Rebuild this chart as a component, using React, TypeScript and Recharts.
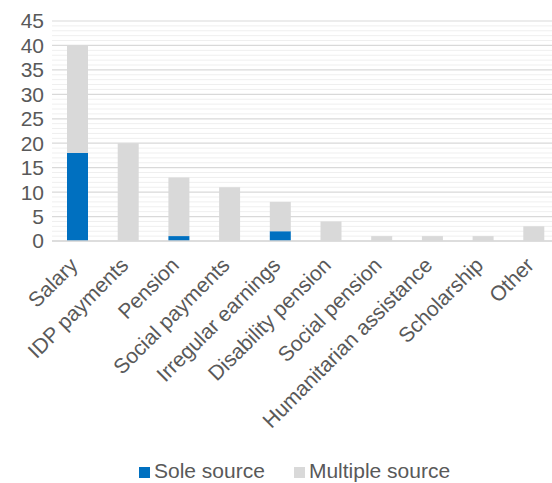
import React from "react";
import { BarChart, Bar, XAxis, YAxis, CartesianGrid, Legend } from "recharts";

const categories = [
  "Salary",
  "IDP payments",
  "Pension",
  "Social payments",
  "Irregular earnings",
  "Disability pension",
  "Social pension",
  "Humanitarian assistance",
  "Scholarship",
  "Other",
];
const soleSource = [18, 0, 1, 0, 2, 0, 0, 0, 0, 0];
const multipleSource = [22, 20, 12, 11, 6, 4, 1, 1, 1, 3];
const majorTicks = [0, 5, 10, 15, 20, 25, 30, 35, 40, 45];
const minorTicks = Array.from({ length: 46 }, (_, i) => i).filter((v) => v % 5 !== 0);
const yMax = 45;

const data = categories.map((name, i) => ({
  name,
  sole: soleSource[i],
  multiple: multipleSource[i],
}));

const font = "'Liberation Sans', Arial, sans-serif";

// light minor gridlines at every unit, placed with the axis scale when available
const minorLines = ({ yAxis, offset }: any) => {
  const sc = yAxis && yAxis.scale;
  if (typeof sc === "function") return minorTicks.map((v) => sc(v));
  if (sc && typeof sc.map === "function") return minorTicks.map((v) => sc.map(v));
  return minorTicks.map((v) => offset.top + offset.height * (1 - v / yMax));
};

const App: React.FC = () => {
  return (
    <div style={{ position: "absolute", left: 0, top: 0, width: 552, height: 483, overflow: "hidden", background: "#fff", fontFamily: font }}>
      <BarChart width={559} height={483} data={data} margin={{ top: 21, right: 0, bottom: 0, left: 0 }}>
        <CartesianGrid vertical={false} stroke="#efefef" strokeWidth={1} horizontalCoordinatesGenerator={minorLines} />
        <CartesianGrid vertical={false} stroke="#d9d9d9" strokeWidth={1.2} />
        <XAxis
          dataKey="name"
          interval={0}
          height={218}
          tickLine={false}
          axisLine={{ stroke: "#d9d9d9", strokeWidth: 1.5 }}
          angle={-45}
          textAnchor="end"
          tick={{ fontSize: 21, fill: "#595959", fontFamily: font, dx: -9, dy: 7 }}
        />
        <YAxis
          width={52}
          domain={[0, yMax]}
          ticks={majorTicks}
          interval={0}
          tickLine={false}
          axisLine={false}
          tick={{ fontSize: 21, fill: "#595959", fontFamily: font }}
        />
        <Legend
          verticalAlign="bottom"
          align="left"
          iconType="square"
          iconSize={11}
          itemSorter={(item: any) => (item.dataKey === "sole" ? 0 : 1)}
          wrapperStyle={{ fontSize: 21, fontFamily: font, left: 139, width: "auto" }}
          formatter={(v) => <span style={{ color: "#595959", paddingRight: 19 }}>{v}</span>}
        />
        <Bar dataKey="sole" name="Sole source" stackId="a" fill="#0070c0" barSize={21} isAnimationActive={false} />
        <Bar dataKey="multiple" name="Multiple source" stackId="a" fill="#d9d9d9" barSize={21} isAnimationActive={false} />
      </BarChart>
    </div>
  );
};

export default App;
